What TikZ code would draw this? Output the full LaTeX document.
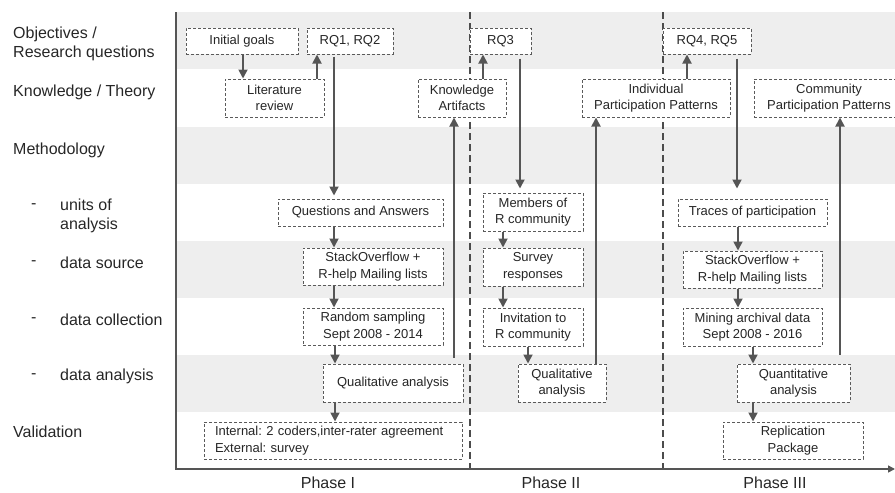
\documentclass[tikz,border=0pt]{standalone}
\usepackage{fontspec}
\setmainfont{Liberation Sans}
\usetikzlibrary{arrows.meta}
\definecolor{band}{HTML}{EEEEEE}
\definecolor{ink}{HTML}{262626}
\definecolor{edge}{HTML}{5A5A5A}
\definecolor{arrc}{HTML}{555555}
\frenchspacing
\begin{document}
\begin{tikzpicture}[x=1pt,y=-1pt,
  bx/.style={draw=edge, line width=1pt, dash pattern=on 3pt off 2pt, fill=white,
    inner sep=0pt, align=center, text=ink, font=\fontsize{13}{16.5}\selectfont},
  lbl/.style={anchor=west, align=left, text=ink, font=\fontsize{16}{18.5}\selectfont, inner sep=0pt},
  phase/.style={text=ink, font=\fontsize{16}{18}\selectfont, inner sep=0pt},
  arr/.style={draw=arrc, line width=1.8pt, -{Triangle[width=9pt,length=9pt]}},
  axis/.style={draw=arrc, line width=1.5pt},
  phaseline/.style={draw=arrc!90!black, line width=1.5pt, dash pattern=on 7pt off 4pt}]
\useasboundingbox (0,0) rectangle (895,493);
% bands
\foreach \y in {12,127,241,355} {
  \fill[band] (176,\y) rectangle (895,\y+57);
}
% phase separators
\draw[phaseline] (470,12) -- (470,469);
\draw[phaseline] (663,12) -- (663,469);
% axes
\draw[axis, -{Triangle[width=7pt,length=7pt]}] (176,12) -- (176,469) -- (895,469);

% left labels
\node[lbl] (l1) at (13,44) {Objectives /\\Research questions};
\node[lbl] (l2) at (13,92) {Knowledge / Theory};
\node[lbl] (l3) at (13,150) {Methodology};
\node[lbl] (d1) at (31,206) {-};
\node[lbl] (l4) at (60,216) {units of\\analysis};
\node[lbl] (d2) at (31,263) {-};
\node[lbl] (l5) at (60,263) {data source};
\node[lbl] (d3) at (31,320) {-};
\node[lbl] (l6) at (60,320) {data collection};
\node[lbl] (d4) at (31,376) {-};
\node[lbl] (l7) at (60,376) {data analysis};
\node[lbl] (l8) at (13,432) {Validation};

% phase labels
\node[phase] (p1) at (328,483) {Phase I};
\node[phase] (p2) at (551,483) {Phase II};
\node[phase] (p3) at (775,483) {Phase III};

% Phase I boxes
\node[bx, minimum width=112pt, minimum height=26pt] (ig) at (242,41) {Initial goals};
\node[bx, minimum width=86pt, minimum height=26pt] (rq12) at (350,41) {RQ1, RQ2};
\node[bx, minimum width=99pt, minimum height=38pt] (lit) at (274.5,98) {Literature\\review};
\node[bx, minimum width=88pt, minimum height=38pt] (ka) at (462,98) {Knowledge\\Artifacts};
\node[bx, minimum width=165pt, minimum height=27pt] (qa) at (360.5,212.5) {Questions and Answers};
\node[bx, minimum width=140pt, minimum height=37pt] (so1) at (373,266.5) {StackOverflow +\\R-help Mailing lists};
\node[bx, minimum width=140pt, minimum height=37pt] (rs) at (373,326.5) {Random sampling\\Sept 2008 - 2014};
\node[bx, minimum width=140pt, minimum height=38pt] (ql1) at (393,383) {Qualitative analysis};
\node[bx, minimum width=258pt, minimum height=37pt, align=left, text width=236pt] (val) at (333,440.5) {Internal: 2 coders,inter-rater agreement\\External: survey};

% Phase II boxes
\node[bx, minimum width=61pt, minimum height=26pt] (rq3) at (500.5,41) {RQ3};
\node[bx, minimum width=100pt, minimum height=38pt] (mem) at (533,212) {Members of\\R community};
\node[bx, minimum width=100pt, minimum height=38pt] (sr) at (533,267) {Survey\\responses};
\node[bx, minimum width=100pt, minimum height=38pt] (inv) at (533,327) {Invitation to\\R community};
\node[bx, minimum width=88pt, minimum height=38pt] (ql2) at (562,383) {Qualitative\\analysis};
\node[bx, minimum width=148pt, minimum height=38pt] (ipp) at (656,98) {Individual\\Participation Patterns};

% Phase III boxes
\node[bx, minimum width=88pt, minimum height=26pt] (rq45) at (707,41) {RQ4, RQ5};
\node[bx, minimum width=150pt, minimum height=38pt] (cpp) at (829,98) {Community\\Participation Patterns};
\node[bx, minimum width=149pt, minimum height=27pt] (tr) at (752.5,212.5) {Traces of participation};
\node[bx, minimum width=139pt, minimum height=37pt] (so3) at (752.5,269.5) {StackOverflow +\\R-help Mailing lists};
\node[bx, minimum width=139pt, minimum height=38pt] (mad) at (752.5,327) {Mining archival data\\Sept 2008 - 2016};
\node[bx, minimum width=113pt, minimum height=38pt] (qn) at (793.5,383) {Quantitative\\analysis};
\node[bx, minimum width=140pt, minimum height=37pt] (rep) at (793,440.5) {Replication\\Package};

% connectors, Phase I
\draw[arr] ([xshift=1pt]ig.south) -- ([xshift=1pt]ig.south |- lit.north);
\draw[arr] ([xshift=42.5pt]lit.north) -- ([xshift=42.5pt]lit.north |- rq12.south);
\draw[arr, shorten <=2pt, shorten >=3pt] ([xshift=-16pt]rq12.south) -- ([xshift=-16pt]rq12.south |- qa.north);
\draw[arr] ([xshift=-26.5pt]qa.south) -- ([xshift=-26.5pt]qa.south |- so1.north);
\draw[arr] ([xshift=-39pt]so1.south) -- ([xshift=-39pt]so1.south |- rs.north);
\draw[arr] ([xshift=-38pt]rs.south) -- ([xshift=-38pt]rs.south |- ql1.north);
\draw[arr] ([xshift=-58pt]ql1.south) -- ([xshift=-58pt]ql1.south |- val.north);
\draw[arr, shorten <=6pt] ([xshift=61pt]ql1.north) -- ([xshift=61pt]ql1.north |- ka.south);
% Phase II
\draw[arr] ([xshift=21pt]ka.north) -- ([xshift=21pt]ka.north |- rq3.south);
\draw[arr, shorten <=4pt, shorten >=4pt] ([xshift=19.5pt]rq3.south) -- ([xshift=19.5pt]rq3.south |- mem.north);
\draw[arr] ([xshift=-30pt]mem.south) -- ([xshift=-30pt]mem.south |- sr.north);
\draw[arr] ([xshift=-30pt]sr.south) -- ([xshift=-30pt]sr.south |- inv.north);
\draw[arr] ([xshift=-5pt]inv.south) -- ([xshift=-5pt]inv.south |- ql2.north);
\draw[arr] ([xshift=34pt]ql2.north) -- ([xshift=34pt]ql2.north |- ipp.south);
% Phase III
\draw[arr] ([xshift=31pt]ipp.north) -- ([xshift=31pt]ipp.north |- rq45.south);
\draw[arr, shorten <=4pt, shorten >=10pt] ([xshift=30pt]rq45.south) -- ([xshift=30pt]rq45.south |- tr.north);
\draw[arr] ([xshift=-14.5pt]tr.south) -- ([xshift=-14.5pt]tr.south |- so3.north);
\draw[arr] ([xshift=-14.5pt]so3.south) -- ([xshift=-14.5pt]so3.south |- mad.north);
\draw[arr] ([xshift=0.5pt]mad.south) -- ([xshift=0.5pt]mad.south |- qn.north);
\draw[arr] ([xshift=-40.5pt]qn.south) -- ([xshift=-40.5pt]qn.south |- rep.north);
\draw[arr, shorten <=9pt] ([xshift=46.5pt]qn.north) -- ([xshift=46.5pt]qn.north |- cpp.south);
\end{tikzpicture}
\end{document}
